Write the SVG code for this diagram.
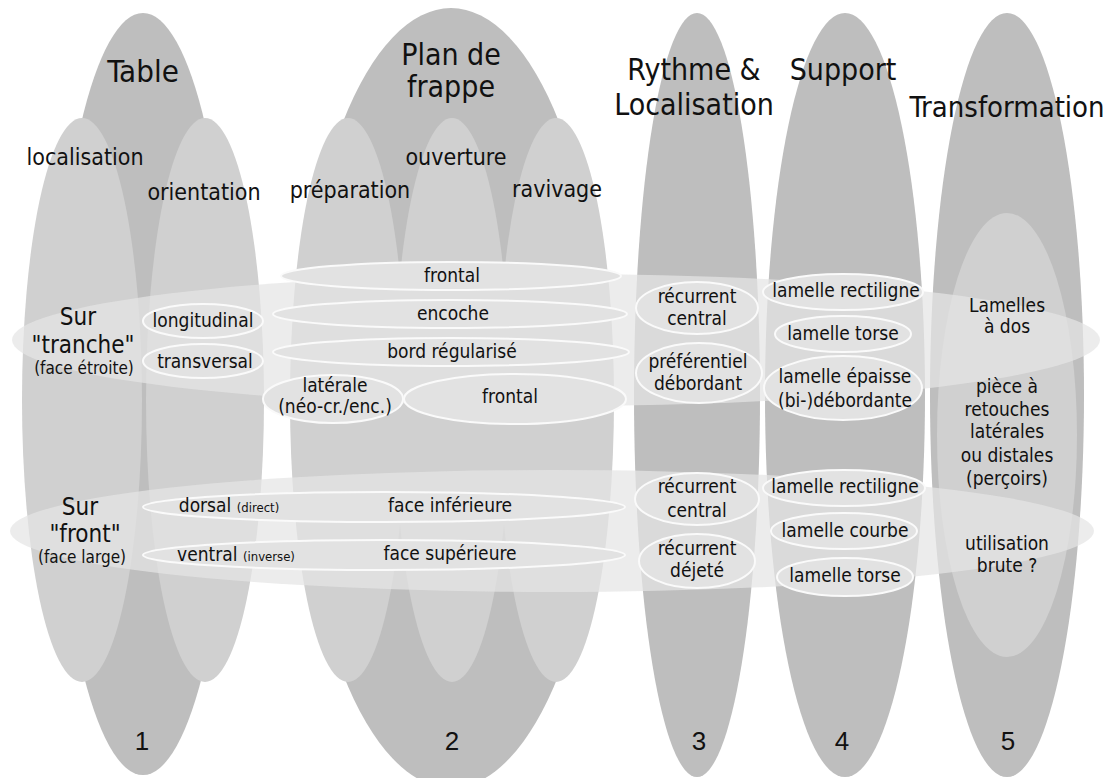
<svg xmlns="http://www.w3.org/2000/svg" width="1113" height="778" viewBox="0 0 1113 778">
<style>
text{font-family:"DejaVu Sans Condensed","DejaVu Sans",sans-serif;fill:#111;text-anchor:middle}
.col{fill:#bebebe}
.sub{fill:#d0d0d0}
.band{fill:#e4e4e4;fill-opacity:0.72}
.node{fill:#e2e2e2;stroke:#fafafa;stroke-width:2}
.h{font-size:30px}
.s{font-size:23px}
.r{font-size:24px}
.n{font-size:19px}
.sm{font-size:17px}
.xs{font-size:13px}
.num{font-family:"Liberation Sans",sans-serif;font-size:26px}
</style>
<rect width="1113" height="778" fill="#fff"/>
<g id="columns">
<ellipse class="col" cx="143" cy="394" rx="88" ry="381"/>
<ellipse class="col" cx="451" cy="398" rx="153" ry="390"/>
<ellipse class="col" cx="697" cy="395" rx="63" ry="382"/>
<ellipse class="col" cx="845" cy="395" rx="80" ry="382"/>
<ellipse class="col" cx="1007" cy="395" rx="77" ry="382"/>
</g>
<g id="subcolumns">
<ellipse class="sub" cx="82" cy="400" rx="60" ry="282"/>
<ellipse class="sub" cx="205" cy="400" rx="59" ry="282"/>
<ellipse class="sub" cx="348" cy="400" rx="58" ry="282"/>
<ellipse class="sub" cx="452" cy="400" rx="58" ry="282"/>
<ellipse class="sub" cx="556" cy="400" rx="58" ry="282"/>
<ellipse class="sub" cx="1007" cy="435" rx="70" ry="222"/>
</g>
<g id="bands">
<ellipse class="band" cx="556" cy="340" rx="544" ry="66"/>
<ellipse class="band" cx="552" cy="531" rx="542" ry="61"/>
</g>
<g id="titles">
<text class="h" x="143" y="82" style="font-size:31px">Table</text>
<text class="h" x="451" y="65">Plan de</text>
<text class="h" x="451" y="97">frappe</text>
<text class="h" x="694" y="80">Rythme &amp;</text>
<text class="h" x="694" y="115">Localisation</text>
<text class="h" x="843" y="80">Support</text>
<text class="h" x="1007" y="117" style="font-size:29px">Transformation</text>
<text class="s" x="85" y="165">localisation</text>
<text class="s" x="204" y="200">orientation</text>
<text class="s" x="350" y="198">préparation</text>
<text class="s" x="456" y="165">ouverture</text>
<text class="s" x="557" y="197">ravivage</text>
</g>
<g id="rowlabels">
<text class="r" x="78" y="325">Sur</text>
<text class="r" x="83" y="353">"tranche"</text>
<text class="sm" x="84" y="374">(face étroite)</text>
<text class="r" x="80" y="515">Sur</text>
<text class="r" x="85" y="542">"front"</text>
<text class="sm" x="82" y="563">(face large)</text>
</g>
<g id="n-longitudinal"><ellipse class="node" cx="203" cy="321" rx="60" ry="17"/><text class="n" x="203" y="327">longitudinal</text></g>
<g id="n-transversal"><ellipse class="node" cx="203" cy="361" rx="60" ry="17"/><text class="n" x="205" y="368">transversal</text></g>
<g id="n-frontal1"><ellipse class="node" cx="451" cy="276" rx="170" ry="14"/><text class="n" x="452" y="282">frontal</text></g>
<g id="n-encoche"><ellipse class="node" cx="450" cy="314" rx="177" ry="14"/><text class="n" x="453" y="320">encoche</text></g>
<g id="n-bord"><ellipse class="node" cx="451" cy="352" rx="178" ry="14"/><text class="n" x="452" y="358">bord régularisé</text></g>
<g id="n-laterale"><ellipse class="node" cx="333" cy="399" rx="70" ry="24"/><text class="n" x="335" y="392">latérale</text><text class="n" x="335" y="413">(néo-cr./enc.)</text></g>
<g id="n-frontal2"><ellipse class="node" cx="515" cy="399" rx="111" ry="25"/><text class="n" x="510" y="403">frontal</text></g>
<g id="n-recurrent1"><ellipse class="node" cx="697" cy="308" rx="61" ry="26"/><text class="n" x="697" y="303">récurrent</text><text class="n" x="697" y="325">central</text></g>
<g id="n-preferentiel"><ellipse class="node" cx="699" cy="373" rx="63" ry="30"/><text class="n" x="698" y="368">préférentiel</text><text class="n" x="698" y="390">débordant</text></g>
<g id="n-rectiligne1"><ellipse class="node" cx="843" cy="292" rx="80" ry="18"/><text class="n" x="846" y="297">lamelle rectiligne</text></g>
<g id="n-torse1"><ellipse class="node" cx="843" cy="334" rx="68" ry="18"/><text class="n" x="843" y="340">lamelle torse</text></g>
<g id="n-epaisse"><ellipse class="node" cx="843" cy="388" rx="79" ry="32"/><text class="n" x="845" y="383">lamelle épaisse</text><text class="n" x="845" y="407">(bi-)débordante</text></g>
<g id="n-dorsal"><ellipse class="node" cx="384" cy="507" rx="241" ry="15"/><text class="n" x="229" y="512">dorsal <tspan class="xs">(direct)</tspan></text><text class="n" x="450" y="512">face inférieure</text></g>
<g id="n-ventral"><ellipse class="node" cx="384" cy="555" rx="241" ry="15"/><text class="n" x="236" y="561">ventral <tspan class="xs">(inverse)</tspan></text><text class="n" x="450" y="560">face supérieure</text></g>
<g id="n-recurrent2"><ellipse class="node" cx="697" cy="499" rx="62" ry="26"/><text class="n" x="697" y="493">récurrent</text><text class="n" x="697" y="517">central</text></g>
<g id="n-dejete"><ellipse class="node" cx="697" cy="561" rx="58" ry="27"/><text class="n" x="697" y="555">récurrent</text><text class="n" x="697" y="577">déjeté</text></g>
<g id="n-rectiligne2"><ellipse class="node" cx="844" cy="488" rx="81" ry="18"/><text class="n" x="845" y="493">lamelle rectiligne</text></g>
<g id="n-courbe"><ellipse class="node" cx="844" cy="531" rx="73" ry="18"/><text class="n" x="845" y="537">lamelle courbe</text></g>
<g id="n-torse2"><ellipse class="node" cx="845" cy="577" rx="68" ry="19"/><text class="n" x="845" y="582">lamelle torse</text></g>
<g id="transformation-items">
<text class="n" x="1007" y="312">Lamelles</text>
<text class="n" x="1007" y="333">à dos</text>
<text class="n" x="1007" y="393">pièce à</text>
<text class="n" x="1007" y="416">retouches</text>
<text class="n" x="1007" y="438">latérales</text>
<text class="n" x="1007" y="462">ou distales</text>
<text class="n" x="1007" y="485">(perçoirs)</text>
<text class="n" x="1007" y="550">utilisation</text>
<text class="n" x="1007" y="572">brute ?</text>
</g>
<g id="numbers">
<text class="num" x="142" y="750">1</text>
<text class="num" x="452" y="750">2</text>
<text class="num" x="699" y="750">3</text>
<text class="num" x="842" y="750">4</text>
<text class="num" x="1008" y="750">5</text>
</g>
<g id="connectors"></g>
</svg>
